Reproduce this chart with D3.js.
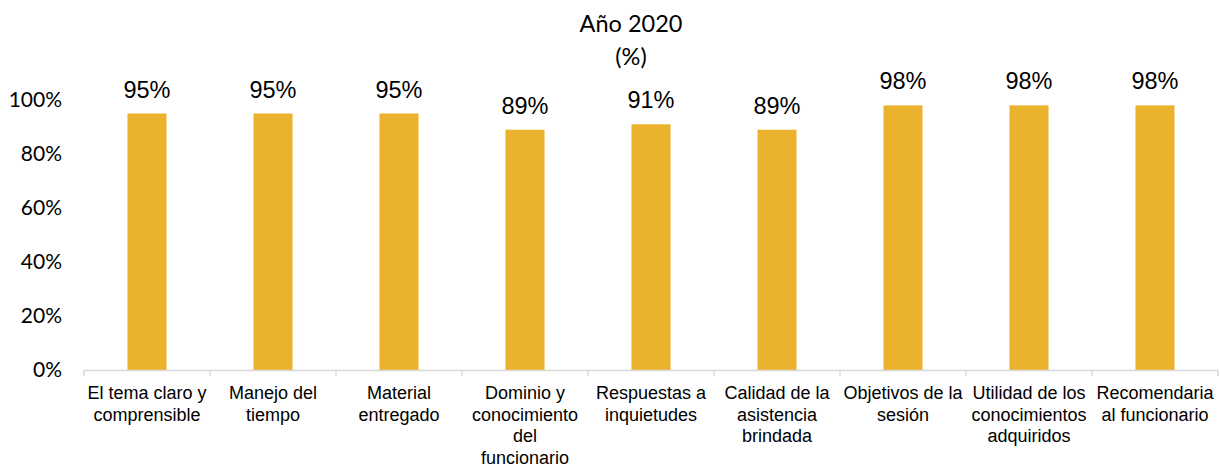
<!DOCTYPE html>
<html>
<head>
<meta charset="utf-8">
<script src="https://cdn.jsdelivr.net/npm/d3@7"></script>
<style>
  body { margin: 0; background: #fff; }
  svg { display: block; }
</style>
</head>
<body>
<svg id="chart" width="1220" height="466"></svg>
<script>
// Chart data
const categories = [
  'El tema claro y\ncomprensible',
  'Manejo del\ntiempo',
  'Material\nentregado',
  'Dominio y\nconocimiento\ndel\nfuncionario',
  'Respuestas a\ninquietudes',
  'Calidad de la\nasistencia\nbrindada',
  'Objetivos de la\nsesión',
  'Utilidad de los\nconocimientos\nadquiridos',
  'Recomendaria\nal funcionario'
];
const values = [0.95, 0.95, 0.95, 0.89, 0.91, 0.89, 0.98, 0.98, 0.98];
const yTicks = [0, 0.2, 0.4, 0.6, 0.8, 1];
const titleLines = ['Año 2020', '(%)'];

const barColor = '#EBB32D';
const svg = d3.select('#chart');

// Scales
const x = d3.scaleBand()
  .domain(categories)
  .range([84, 1218])
  .paddingInner(0.69)
  .paddingOuter(0.345);

const y = d3.scaleLinear()
  .domain([0, 1])
  .range([370, 100]);

// Title
svg.append('g')
  .selectAll('text')
  .data(titleLines)
  .enter()
  .append('text')
  .attr('x', 631)
  .attr('y', (d, i) => 32 + i * 33)
  .attr('text-anchor', 'middle')
  .style('font-family', 'Lato, "Open Sans", sans-serif')
  .style('font-size', '23.5px')
  .style('fill', '#000')
  .text(d => d);

// Y axis labels (no axis line)
svg.append('g')
  .selectAll('text')
  .data(yTicks)
  .enter()
  .append('text')
  .attr('x', 62)
  .attr('y', d => y(d) + 7)
  .attr('text-anchor', 'end')
  .style('font-family', 'Lato, sans-serif')
  .style('font-size', '21px')
  .style('fill', '#000')
  .text(d => d3.format('.0%')(d));

// Bars
svg.append('g')
  .selectAll('rect')
  .data(values)
  .enter()
  .append('rect')
  .attr('x', (d, i) => x(categories[i]))
  .attr('y', d => y(d))
  .attr('width', x.bandwidth())
  .attr('height', d => y(0) - y(d))
  .attr('fill', barColor);

// Data labels
svg.append('g')
  .selectAll('text')
  .data(values)
  .enter()
  .append('text')
  .attr('x', (d, i) => x(categories[i]) + x.bandwidth() / 2)
  .attr('y', d => y(d) - 16)
  .attr('text-anchor', 'middle')
  .style('font-family', '"Liberation Sans", Arial, sans-serif')
  .style('font-size', '23.5px')
  .style('fill', '#000')
  .text(d => d3.format('.0%')(d));

// X axis line and ticks at band boundaries
const step = x.step();
const axisG = svg.append('g');
axisG.append('line')
  .attr('x1', 84).attr('x2', 1218)
  .attr('y1', y(0) + 0.5).attr('y2', y(0) + 0.5)
  .attr('stroke', '#D9D9D9')
  .attr('stroke-width', 1.5);

axisG.selectAll('line.tick')
  .data(d3.range(categories.length + 1))
  .enter()
  .append('line')
  .attr('class', 'tick')
  .attr('x1', i => 84 + i * step)
  .attr('x2', i => 84 + i * step)
  .attr('y1', y(0))
  .attr('y2', y(0) + 6)
  .attr('stroke', '#D9D9D9')
  .attr('stroke-width', 1.5);

// Category labels
const catG = svg.append('g');
categories.forEach((c, i) => {
  const t = catG.append('text')
    .attr('text-anchor', 'middle')
    .style('font-family', '"Liberation Sans", Arial, sans-serif')
    .style('font-size', '18px')
    .style('fill', '#000');
  c.split('\n').forEach((line, j) => {
    t.append('tspan')
      .attr('x', x(c) + x.bandwidth() / 2)
      .attr('y', 399 + j * 21.5)
      .text(line);
  });
});
</script>
</body>
</html>
